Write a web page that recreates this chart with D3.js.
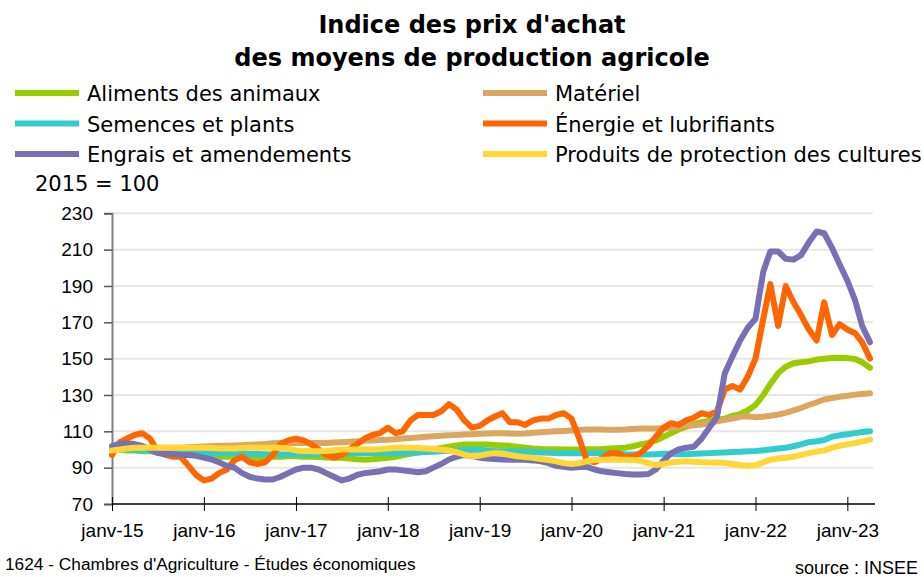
<!DOCTYPE html>
<html><head><meta charset="utf-8">
<script src="https://cdn.jsdelivr.net/npm/d3@7"></script>
<style>body{margin:0;background:#fff}svg{display:block}</style>
</head><body>
<svg id="c" width="924" height="577"></svg>
<script>
const titleLines = ["Indice des prix d'achat", "des moyens de production agricole"];
const startMonth = new Date(2015, 0, 1);
const nMonths = 100;
const yTicks = [70, 90, 110, 130, 150, 170, 190, 210, 230];
const xTickYears = [2015, 2016, 2017, 2018, 2019, 2020, 2021, 2022, 2023];
const xTickLabels = ["janv-15","janv-16","janv-17","janv-18","janv-19","janv-20","janv-21","janv-22","janv-23"];

const aliments = [100,100,99.5,99.5,99,99,98.5,98.5,98,97.5,97,97,96.5,96.5,96,96,96,96,95.5,95.5,95.5,96,96,96.3,
96.3,96,96,95.8,95.6,95.4,95.4,95,94.6,94.4,94.6,95,95.4,96,96.8,97.6,98.5,99.3,100,100.8,101.5,102.2,102.7,102.7,
102.7,102.7,102.5,102.2,102,101.5,101,100.6,100.3,100.2,100.1,100,100,100,100.1,100.2,100.3,100.5,100.7,101,101.8,102.8,103.6,105,
107,109,111,112.5,114,115,115.8,116.5,117,118.5,119.5,121.5,
124.5,130,136,142,145.5,147.5,148,148.5,149.5,150,150.3,150.5,150.3,149.8,148,145];
const materiel = [100,100.2,100.4,100.6,100.7,100.8,101,101,101,101,101.2,101.4,101.6,101.8,102,102,102.2,102.4,102.6,102.8,103,103.4,103.6,103.6,
103.6,103.6,103.6,103.6,103.6,103.8,104,104.2,104.5,104.8,105,105.2,105.4,105.6,106,106.3,106.6,107,107.3,107.6,107.8,108,108.2,108.4,
108.6,108.8,109,109,108.8,108.6,108.8,109.2,109.5,109.8,110,110.2,110.5,110.8,111,111,111,110.8,110.8,111,111.3,111.5,111.6,111.6,
111.7,112,112.5,113,113.4,113.8,114.5,115.5,116.4,117,118,118.3,
117.8,118,118.6,119.2,120.2,121.5,122.8,124.5,126,127.5,128.3,129,129.6,130.2,130.6,131];
const semences = [100,100,100,99.8,99.5,99.3,99,99,98.8,98.6,98.4,98.2,98,98,98,98,97.8,97.6,97.5,97.5,97.4,97.3,97.2,97.2,
97.2,97.2,97.3,97.4,97.6,97.8,98,98,98,98,98,98,98,98,98,98.2,98.4,98.6,98.8,99,99.3,99.6,99.8,100,
99.8,99.5,99.2,99,99,99,98.8,98.6,98.4,98.2,98,98,98,98,98,98,98,97.8,97.6,97.4,97.3,97.2,97.2,97.4,
97.6,97.6,97.4,97.4,97.6,97.8,98,98.2,98.4,98.6,98.8,99,
99.2,99.6,100,100.5,101,101.8,102.8,104,104.5,105.2,107,107.8,108.4,109,109.6,110];
const energie = [97,104,106,108,109,106,99,97,96,96,91,86,83,84,87,89,94,96,93,92,93,97,103,105,
106,105,103,100,97,95.5,97,100,103,106,108,109,112,109,110,116,119,119,119,121,125,122,116,112,
113,116,118,120,115,115,113.5,116,117,117,119,120,117,106,94,93,95,98,98,96,96,98,102,107,
112,114.5,113.5,116,117.5,120,119,121,133,135,133,140,
150,172,191,168,190,181,174,166,160,181,163,169,166,164,159,150];
const engrais = [102,103,103.5,103,102,100,98,97.5,97.5,97,97,96.5,95.5,94.5,93,91,90,87,85,84,83.5,83.5,85,87,
89,90,90,89,87,85,83,84,86,87,87.5,88,89,89,88.5,88,87.5,88,90,92,94.5,96,97,96.5,
95.5,95,94.8,94.5,94.4,94.4,94.4,94,93.5,92.5,91,90.5,90,90.4,90.4,89,88,87.5,87,86.5,86.2,86.2,86.5,89,
94,98,100,101,101.5,106,112,118,142,151,160,167,
172,198,209,209,205,204.5,207,214,220,219,211,202,193,182,168,159];
const produits = [99.5,100,100.5,101,101,101,101,101,101,101,101,101,101,100.8,100.6,100.6,100.6,100.8,101,101,101,101,101,100.5,
99.5,99.2,99,99,99.2,99.6,100,100,100,100,100,100.2,100.6,101,101,101,100.8,100.6,100.3,100,99.5,98.5,97.2,96.3,
96.6,97.5,98,97.8,97,96.3,95.8,95.4,94.8,94.2,93.5,92.5,92,92.5,93.5,94.2,94.4,94.4,94.4,94.4,94.2,93.8,92.5,91.5,
92,92.8,93.3,93.5,93.3,93,92.8,92.8,92.6,92,91.3,91,
91.3,93,94.4,95,95.5,96,97,98,98.8,99.5,101,102,102.8,103.6,104.5,105.4];

const seriesNames = ["Aliments des animaux","Matériel","Semences et plants","Énergie et lubrifiants","Engrais et amendements","Produits de protection des cultures"];
const seriesValues = [aliments, materiel, semences, energie, engrais, produits];
const seriesColors = ["#99cc00","#d9a760","#33cccc","#ff6600","#7771b4","#ffd633"];

const dates = d3.range(nMonths).map(i => d3.timeMonth.offset(startMonth, i));
const svg = d3.select("#c");
const L = 112, R = 870, T = 213.3, B = 504;
const x = d3.scaleTime().domain([dates[0], dates[nMonths-1]]).range([L, R]);
const y = d3.scaleLinear().domain([70, 230]).range([B, T]);

// title
svg.selectAll("text.title").data(titleLines).join("text")
  .attr("x", 472).attr("y", (d,i) => 33 + i*33).attr("text-anchor","middle")
  .attr("font-family","DejaVu Sans").attr("font-weight","bold").attr("font-size",24).text(d=>d);

// gridlines
svg.append("g").selectAll("line").data(yTicks.slice(1)).join("line")
  .attr("x1", L).attr("x2", 873).attr("y1", d=>y(d)).attr("y2", d=>y(d))
  .attr("stroke","#e6e6e6").attr("stroke-width",2);

// y axis
const yAxis = svg.append("g").attr("transform",`translate(${L},0)`)
  .call(d3.axisLeft(y).tickValues(yTicks).tickSize(8).tickPadding(11).tickFormat(d3.format("d")));
yAxis.select(".domain").attr("stroke","#808080").attr("stroke-width",2);
yAxis.selectAll(".tick line").attr("stroke","#555").attr("stroke-width",1.5);
yAxis.selectAll("text").attr("font-family","Liberation Sans Narrow, Liberation Sans").attr("font-size",19).attr("fill","#000");

// x axis
const xAxis = svg.append("g").attr("transform",`translate(0,${B})`)
  .call(d3.axisBottom(x).tickValues(xTickYears.map(yr => new Date(yr,0,1))).tickSize(0)
    .tickFormat((d,i)=>xTickLabels[i]));
xAxis.select(".domain").remove();
xAxis.append("line").attr("x1",L).attr("x2",875).attr("stroke","#000").attr("stroke-width",1.5);
xAxis.selectAll(".tick").append("line").attr("y1",-7).attr("y2",7).attr("stroke","#000").attr("stroke-width",1);
xAxis.selectAll(".tick text").attr("y",20).attr("font-family","Liberation Sans Narrow, Liberation Sans").attr("font-size",19).attr("fill","#000");

// lines
const line = d3.line().x((d,i)=>x(dates[i])).y(d=>y(d));
svg.append("g").selectAll("path").data(seriesValues).join("path")
  .attr("d", line).attr("fill","none").attr("stroke",(d,i)=>seriesColors[i])
  .attr("stroke-width",6).attr("stroke-linejoin","round").attr("stroke-linecap","round");

// legend
const leg = svg.append("g").selectAll("g").data(seriesNames).join("g")
  .attr("transform",(d,i)=>`translate(${i%2===0?15:483},${93 + Math.floor(i/2)*30.5})`);
leg.append("line").attr("x1",0).attr("x2",64).attr("stroke",(d,i)=>seriesColors[i]).attr("stroke-width",6);
leg.append("text").attr("x",72).attr("y",8).attr("font-family","DejaVu Sans").attr("font-size",21).text(d=>d);

svg.append("text").attr("x",35).attr("y",191).attr("font-family","DejaVu Sans").attr("font-size",21).text("2015 = 100");
svg.append("text").attr("x",5).attr("y",570).attr("font-family","Liberation Sans Narrow, Liberation Sans").attr("font-size",17.3).text("1624 - Chambres d'Agriculture - Études économiques");
svg.append("text").attr("x",918).attr("y",574).attr("text-anchor","end").attr("font-family","Liberation Sans Narrow, Liberation Sans").attr("font-size",18).text("source : INSEE");
</script>
</body></html>
